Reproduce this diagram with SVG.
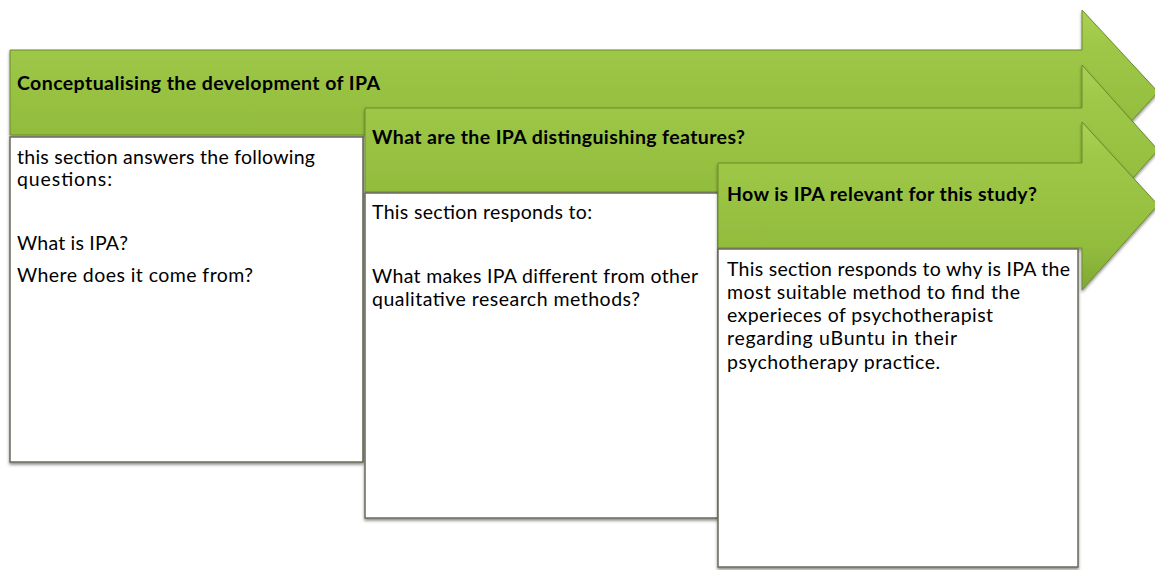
<svg xmlns="http://www.w3.org/2000/svg" width="1155" height="570" viewBox="0 0 1155 570">
<defs>
<linearGradient id="g1" x1="0" y1="0" x2="0" y2="1">
<stop offset="0" stop-color="#abd156"/>
<stop offset="0.2" stop-color="#9fc848"/>
<stop offset="0.75" stop-color="#92bc3d"/>
<stop offset="1" stop-color="#80a834"/>
</linearGradient>
<filter id="sh" x="-5%" y="-5%" width="110%" height="115%">
<feDropShadow dx="0" dy="2" stdDeviation="1.5" flood-color="#000" flood-opacity="0.45"/>
</filter>
</defs>
<style>
.arrow{fill:url(#g1);stroke:#6b8c2a;stroke-width:1;filter:url(#sh)}
.box{fill:#ffffff;stroke:#6a6a5a;stroke-width:1.5;filter:url(#sh)}
.title{font-family:Lato,"Liberation Sans",sans-serif;font-weight:bold;font-size:19.5px;fill:#000}
.body{font-family:Lato,"Liberation Sans",sans-serif;font-size:19.5px;fill:#000}
</style>
<rect width="1155" height="570" fill="#ffffff"/>
<g id="connectors"/>
<g id="arrow1">
<path class="arrow" d="M10,50 H1082 V10 L1158,92 L1082,175 V135 H10 Z"/>
<text class="title" x="17" y="90" textLength="363">Conceptualising the development of IPA</text>
</g>
<g id="box1">
<rect class="box" x="10" y="137" width="353" height="325"/>
<text class="body" x="17" y="164" textLength="298">this section answers the following</text>
<text class="body" x="17" y="186" textLength="95">questions:</text>
<text class="body" x="17" y="250" textLength="111">What is IPA?</text>
<text class="body" x="17" y="282" textLength="236">Where does it come from?</text>
</g>
<g id="arrow2">
<path class="arrow" d="M365,108 H1082 V65 L1158,150 L1082,235 V192 H365 Z"/>
<text class="title" x="372" y="144" textLength="373">What are the IPA distinguishing features?</text>
</g>
<g id="box2">
<rect class="box" x="365" y="193" width="353" height="325"/>
<text class="body" x="372" y="219" textLength="220">This section responds to:</text>
<text class="body" x="372" y="283" textLength="326">What makes IPA different from other</text>
<text class="body" x="372" y="306" textLength="268">qualitative research methods?</text>
</g>
<g id="arrow3">
<path class="arrow" d="M718,163 H1082 V122 L1158,205 L1082,290 V248 H718 Z"/>
<text class="title" x="727" y="201" textLength="310">How is IPA relevant for this study?</text>
</g>
<g id="box3">
<rect class="box" x="718" y="249" width="360" height="318"/>
<text class="body" x="727" y="276" textLength="343">This section responds to why is IPA the</text>
<text class="body" x="727" y="299" textLength="293">most suitable method to find the</text>
<text class="body" x="727" y="322" textLength="266">experieces of psychotherapist</text>
<text class="body" x="727" y="345" textLength="230">regarding uBuntu in their</text>
<text class="body" x="727" y="369" textLength="213">psychotherapy practice.</text>
</g>
</svg>
